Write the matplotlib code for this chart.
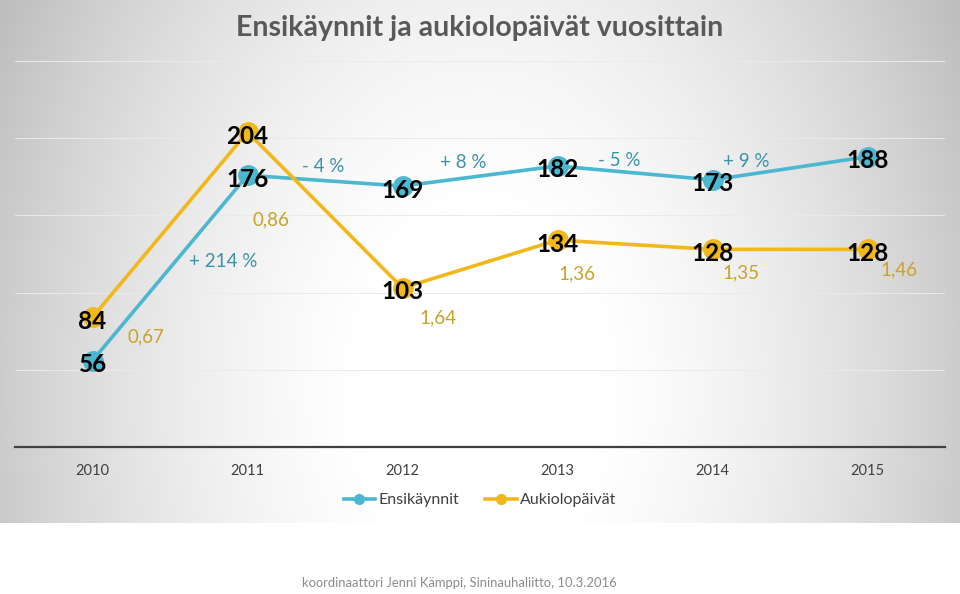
import numpy as np
import matplotlib
matplotlib.use("Agg")
import matplotlib.pyplot as plt

years = ["2010", "2011", "2012", "2013", "2014", "2015"]
ensikaynnit = [56, 176, 169, 182, 173, 188]
aukiolopaivat = [84, 204, 103, 134, 128, 128]
pct_labels = ["+ 214 %", "- 4 %", "+ 8 %", "- 5 %", "+ 9 %"]
ratio_labels = ["0,67", "0,86", "1,64", "1,36", "1,35", "1,46"]

title = "Ensikäynnit ja aukiolopäivät vuosittain"
footer = "koordinaattori Jenni Kämppi, Sininauhaliitto, 10.3.2016"

BLUE = "#4BB7D0"
GOLD = "#F2B71B"
TEAL_TXT = "#3A93A8"
GOLD_TXT = "#C9A227"

FONT = ["Lato", "DejaVu Sans"]

W, H = 960, 594
fig = plt.figure(figsize=(W / 100, H / 100), dpi=100)
fig.patch.set_facecolor("white")

# gray radial-gradient chart background
chart_bottom = 523
bg = fig.add_axes([0, 1 - chart_bottom / H, 1, chart_bottom / H])
yy, xx = np.mgrid[0:chart_bottom, 0:W]
r = np.sqrt(((xx - 480) / 480.0) ** 2 + ((yy - 390) / 700.0) ** 2)
g = np.clip(1.02 - 0.22 * r ** 1.8, 0, 1)
bg.imshow(np.dstack([g, g, g]), aspect="auto", extent=[0, 1, 0, 1], origin="upper")
bg.axis("off")

# main plot area in pixels
L, R, T, B = 15, 945, 61, 447
ax = fig.add_axes([L / W, 1 - B / H, (R - L) / W, (B - T) / H])
ax.patch.set_alpha(0)
x = np.arange(len(years))
ax.set_xlim(-0.5, len(years) - 0.5)
ax.set_ylim(0, 250)
ax.set_yticks([50, 100, 150, 200, 250])
ax.yaxis.grid(True, color="#EAEAEA", linewidth=0.7)
ax.set_axisbelow(True)
ax.tick_params(axis="y", left=False, labelleft=False)
ax.tick_params(axis="x", bottom=False, pad=9)
ax.set_xticks(x)
ax.set_xticklabels(years, fontsize=10.5, color="#404040", family=FONT)
for s in ["top", "left", "right"]:
    ax.spines[s].set_visible(False)
ax.spines["bottom"].set_color("#404040")
ax.spines["bottom"].set_linewidth(1.6)

ax.plot(x, ensikaynnit, color=BLUE, lw=2.6, marker="o", ms=14, label="Ensikäynnit", zorder=3)
ax.plot(x, aukiolopaivat, color=GOLD, lw=2.6, marker="o", ms=14, label="Aukiolopäivät", zorder=3)

# value labels
for xi, v in zip(x, ensikaynnit):
    ax.annotate(str(v), (xi, v), xytext=(0, -4), textcoords="offset pixels",
                ha="center", va="center", fontsize=17.5, fontweight="bold",
                color="black", family=FONT, zorder=5)
for xi, v in zip(x, aukiolopaivat):
    ax.annotate(str(v), (xi, v), xytext=(0, -4), textcoords="offset pixels",
                ha="center", va="center", fontsize=17.5, fontweight="bold",
                color="black", family=FONT, zorder=5)

# percentage change labels (offsets in pixels from segment midpoints)
pct_offsets = [(53, 6), (-2, 14), (-17, 14), (-16, 12), (-44, 7)]
for i, (lab, off) in enumerate(zip(pct_labels, pct_offsets)):
    mx = (x[i] + x[i + 1]) / 2
    my = (ensikaynnit[i] + ensikaynnit[i + 1]) / 2
    ax.annotate(lab, (mx, my), xytext=off, textcoords="offset pixels",
                ha="center", va="center", fontsize=13.5, color=TEAL_TXT, family=FONT)

# ratio labels (offsets in pixels from gold points)
ratio_offsets = [(53, -20), (23, -88), (35, -30), (19, -34), (29, -24), (31, -21)]
for xi, v, lab, off in zip(x, aukiolopaivat, ratio_labels, ratio_offsets):
    ax.annotate(lab, (xi, v), xytext=off, textcoords="offset pixels",
                ha="center", va="center", fontsize=13.5, color=GOLD_TXT, family=FONT)

leg = fig.legend(loc="center", bbox_to_anchor=(0.5, 1 - 500 / H), ncol=2, frameon=False,
                 prop={"family": FONT, "size": 11.5}, handlelength=2.0, columnspacing=1.6,
                 handletextpad=0.2, markerscale=0.5)
for t in leg.get_texts():
    t.set_color("#404040")

fig.text(0.5, 1 - 28 / H, title, ha="center", va="center", fontsize=20.5,
         fontweight="bold", color="#595959", family=FONT)
fig.text(459 / W, 1 - 583 / H, footer, ha="center", va="center", fontsize=9.4,
         color="#8C8C8C", family=FONT)

fig.savefig("out.png", dpi=100)
